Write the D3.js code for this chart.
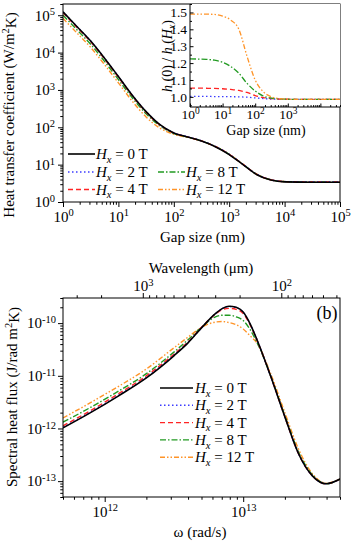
<!DOCTYPE html>
<html>
<head>
<meta charset="utf-8">
<script src="https://cdn.jsdelivr.net/npm/d3@7"></script>
<style>
  body { margin: 0; background: #fff; }
  svg, svg text { font-family: "Liberation Serif", "Times New Roman", serif; }
</style>
</head>
<body>
<div class="chart"></div>
<script>
// legend / series
const fields = ['0', '2', '4', '8', '12']

// panel (a): gap size (log10 nm) and heat transfer coefficient (log10 W/m2K)
const gapLog = [0, 0.25, 0.5, 0.75, 1, 1.25, 1.5, 1.75, 2, 2.25, 2.5, 2.75, 3, 3.25, 3.5, 3.75, 4, 4.5, 5]
const hLog0 = [5.09, 4.70, 4.31, 3.85, 3.36, 2.86, 2.42, 2.07, 1.85, 1.74, 1.63, 1.48, 1.27, 1.00, 0.73, 0.59, 0.54, 0.53, 0.53]
const hLog2 = [5.089, 4.699, 4.309, 3.849, 3.359, 2.86, 2.42, 2.072, 1.854, 1.745, 1.636, 1.486, 1.277, 1.007, 0.737, 0.597, 0.547, 0.537, 0.537]
const hLog4 = [5.068, 4.678, 4.288, 3.829, 3.34, 2.841, 2.404, 2.059, 1.848, 1.742, 1.635, 1.486, 1.277, 1.007, 0.737, 0.597, 0.547, 0.537, 0.537]
const hLog8 = [5.002, 4.612, 4.223, 3.765, 3.279, 2.79, 2.363, 2.039, 1.837, 1.739, 1.634, 1.486, 1.277, 1.007, 0.737, 0.597, 0.547, 0.537, 0.537]
const hLog12 = [4.917, 4.527, 4.137, 3.677, 3.191, 2.699, 2.277, 1.977, 1.813, 1.731, 1.632, 1.485, 1.277, 1.007, 0.737, 0.597, 0.547, 0.537, 0.537]

// inset: h(0)/h(Hx)
const insetGapLog = [0, 0.25, 0.5, 0.75, 1, 1.25, 1.5, 1.75, 2, 2.25, 2.5, 2.75, 3, 3.5, 4, 4.6]
const ratio2 = [1.003, 1.003, 1.003, 1.002, 1.002, 1.001, 1.0, 0.998, 0.994, 0.99, 0.987, 0.986, 0.985, 0.985, 0.985, 0.985]
const ratio4 = [1.052, 1.052, 1.051, 1.05, 1.048, 1.044, 1.038, 1.026, 1.008, 0.996, 0.99, 0.987, 0.986, 0.985, 0.985, 0.985]
const ratio8 = [1.225, 1.224, 1.222, 1.217, 1.205, 1.18, 1.14, 1.08, 1.035, 1.005, 0.993, 0.988, 0.986, 0.985, 0.985, 0.985]
const ratio12 = [1.49, 1.49, 1.49, 1.488, 1.478, 1.455, 1.40, 1.24, 1.10, 1.03, 1.0, 0.99, 0.986, 0.985, 0.985, 0.985]
const insetTicks = [1.0, 1.1, 1.2, 1.3, 1.4, 1.5]
const insetLabels = [1, 10, 100, 1000]

// panel (b): frequency (rad/s) and spectral heat flux (log10 J/rad m2K)
const omega = [5.0e11, 7.9e11, 1.26e12, 2.0e12, 3.16e12, 3.98e12, 5.0e12, 6.3e12, 7.1e12, 7.9e12, 8.9e12, 1.0e13, 1.12e13, 1.26e13, 1.58e13, 2.0e13, 2.5e13, 3.16e13, 3.98e13, 5.0e13]
const fluxLog0 = [-11.99, -11.70, -11.38, -11.04, -10.62, -10.38, -10.09, -9.82, -9.72, -9.68, -9.70, -9.79, -10.01, -10.32, -11.01, -11.78, -12.47, -12.90, -13.05, -12.96]
const fluxLog2 = [-11.98, -11.69, -11.37, -11.03, -10.61, -10.37, -10.09, -9.82, -9.72, -9.685, -9.705, -9.79, -10.01, -10.32, -11.01, -11.78, -12.47, -12.90, -13.05, -12.96]
const fluxLog4 = [-11.95, -11.66, -11.34, -11.00, -10.59, -10.36, -10.08, -9.83, -9.74, -9.72, -9.74, -9.82, -10.03, -10.33, -11.01, -11.78, -12.47, -12.90, -13.05, -12.96]
const fluxLog8 = [-11.88, -11.60, -11.29, -10.96, -10.55, -10.32, -10.08, -9.88, -9.85, -9.85, -9.88, -9.95, -10.12, -10.37, -11.00, -11.76, -12.44, -12.88, -13.05, -12.96]
const fluxLog12 = [-11.80, -11.51, -11.20, -10.87, -10.47, -10.27, -10.08, -9.98, -9.97, -9.99, -10.03, -10.11, -10.24, -10.38, -10.96, -11.70, -12.38, -12.86, -13.04, -12.96]

const colors = ['#000000', '#3c3cff', '#ff2424', '#229a22', '#ff9428']
const dashes = [null, '1.5,2.5', '5,3', '6,2,1.5,2', '5,2,1.5,2,1.5,2']
const widths = [1.6, 1.4, 1.4, 1.4, 1.4]
const serif = '"Liberation Serif", "Times New Roman", serif'

const svg = d3.select('.chart').append('svg')
    .attr('width', 353)
    .attr('height', 541)
    .attr('font-family', serif)

const pa = { left: 63, right: 340, top: 4, bottom: 202 }
const pb = { left: 63, right: 340, top: 298, bottom: 497 }
const ins = { left: 190, right: 340, top: 4, bottom: 107 }

const isMajor = (v) => Math.abs(Math.log10(v) - Math.round(Math.log10(v))) < 1e-6

function supText(t, d) {
    t.append('tspan').text('10')
    t.append('tspan').attr('dy', '-0.5em').attr('font-size', '0.7em')
        .text(Math.round(Math.log10(d)))
}

function cleanAxis(g, fontSize) {
    g.selectAll('.domain').remove()
    g.selectAll('line').attr('stroke', '#000')
    g.selectAll('g').attr('font-family', serif).attr('font-size', fontSize)
    g.selectAll('text').attr('font-family', serif).attr('fill', '#000')
}

// draws a log axis with minor ticks and 10^n labels
function logAxis(g, scale, axisFn, len, pad, fontSize, labelled) {
    const all = scale.ticks()
    const majors = all.filter(isMajor)
    const minors = all.filter(v => !isMajor(v))
    g.append('g')
        .call(axisFn(scale).tickValues(minors).tickSize(len * 0.55).tickSizeOuter(0).tickFormat(''))
    const mg = g.append('g')
        .call(axisFn(scale).tickValues(majors).tickSize(len).tickSizeOuter(0).tickPadding(pad).tickFormat(''))
    mg.selectAll('.tick text')
        .filter(d => !labelled || labelled.includes(d))
        .each(function (d) { supText(d3.select(this), d) })
    cleanAxis(g, fontSize)
}

function legendLabel(t, f) {
    t.append('tspan').attr('font-style', 'italic').text('H')
    t.append('tspan').attr('font-style', 'italic').attr('font-size', '0.7em').attr('dy', '0.35em').text('x')
    t.append('tspan').attr('dy', '-0.25em').text(` = ${f} T`)
}

function clip(id, p) {
    svg.append('clipPath').attr('id', id)
        .append('rect')
        .attr('x', p.left).attr('y', p.top)
        .attr('width', p.right - p.left).attr('height', p.bottom - p.top)
}

// ---------- panel (a) ----------
const xA = d3.scaleLog().domain([1, 1e5]).range([pa.left, pa.right])
const yA = d3.scaleLog().domain([1, 2e5]).range([pa.bottom, pa.top])
clip('clipA', pa)

const hSeries = [hLog0, hLog2, hLog4, hLog8, hLog12]
const lineA = d3.line()
    .x(d => xA(d[0]))
    .y(d => yA(d[1]))
    .curve(d3.curveMonotoneX)

svg.append('g').attr('clip-path', 'url(#clipA)')
    .selectAll('path')
    .data(hSeries.map(s => s.map((v, i) => [Math.pow(10, gapLog[i]), Math.pow(10, v)])).reverse())
    .join('path')
    .attr('d', lineA)
    .attr('fill', 'none')
    .attr('stroke', (d, i) => colors[4 - i])
    .attr('stroke-width', (d, i) => widths[4 - i])
    .attr('stroke-dasharray', (d, i) => dashes[4 - i])

logAxis(svg.append('g').attr('transform', `translate(0,${pa.bottom})`), xA, d3.axisBottom, 5, 4, 15)
logAxis(svg.append('g').attr('transform', `translate(${pa.left},0)`), yA, d3.axisLeft, 5, 3, 15)

svg.append('rect')
    .attr('x', pa.left).attr('y', pa.top)
    .attr('width', pa.right - pa.left).attr('height', pa.bottom - pa.top)
    .attr('fill', 'none').attr('stroke', '#000')

svg.append('text')
    .attr('x', (pa.left + pa.right) / 2 + 1).attr('y', 242)
    .attr('text-anchor', 'middle').attr('font-size', 15)
    .text('Gap size (nm)')

const titleA = svg.append('text')
    .attr('transform', 'translate(14,115) rotate(-90)')
    .attr('text-anchor', 'middle').attr('font-size', 15)
titleA.append('tspan').text('Heat transfer coefficient (W/m')
titleA.append('tspan').attr('dy', '-0.45em').attr('font-size', '0.7em').text('2')
titleA.append('tspan').attr('dy', '0.45em').text('K)')

// legend (a)
const legA = [
    { x: 68, y: 154 }, { x: 68, y: 172 }, { x: 68, y: 189.5 },
    { x: 158, y: 172 }, { x: 158, y: 189.5 }
]
legA.forEach((p, i) => {
    svg.append('line')
        .attr('x1', p.x).attr('x2', p.x + 27).attr('y1', p.y).attr('y2', p.y)
        .attr('stroke', colors[i]).attr('stroke-width', widths[i])
        .attr('stroke-dasharray', dashes[i])
    svg.append('text')
        .attr('x', p.x + 28).attr('y', p.y + 5)
        .attr('font-size', 15)
        .call(legendLabel, fields[i])
})

svg.append('text')
    .attr('x', 327).attr('y', 24)
    .attr('text-anchor', 'middle').attr('font-size', 18)
    .text('(a)')

// ---------- inset ----------
const xI = d3.scaleLog().domain([1, 4e4]).range([ins.left, ins.right])
const yI = d3.scaleLinear().domain([0.94, 1.55]).range([ins.bottom, ins.top])
clip('clipI', ins)

svg.append('rect')
    .attr('x', ins.left).attr('y', ins.top)
    .attr('width', ins.right - ins.left).attr('height', ins.bottom - ins.top)
    .attr('fill', '#fff')

const ratioSeries = [ratio2, ratio4, ratio8, ratio12]
const lineI = d3.line()
    .x(d => xI(d[0]))
    .y(d => yI(d[1]))
    .curve(d3.curveMonotoneX)

svg.append('g').attr('clip-path', 'url(#clipI)')
    .selectAll('path')
    .data(ratioSeries.map(s => s.map((v, i) => [Math.pow(10, insetGapLog[i]), v])))
    .join('path')
    .attr('d', lineI)
    .attr('fill', 'none')
    .attr('stroke', (d, i) => colors[i + 1])
    .attr('stroke-width', 1.3)
    .attr('stroke-dasharray', (d, i) => dashes[i + 1])

logAxis(svg.append('g').attr('transform', `translate(0,${ins.bottom})`), xI, d3.axisBottom, -3.5, 2, 13.5, insetLabels)

const yIg = svg.append('g').attr('transform', `translate(${ins.left},0)`)
yIg.append('g')
    .call(d3.axisLeft(yI).tickValues(insetTicks.map(v => v + 0.05).concat([0.95])).tickSize(-2).tickSizeOuter(0).tickFormat(''))
yIg.append('g')
    .call(d3.axisLeft(yI).tickValues(insetTicks).tickSize(-3.5).tickSizeOuter(0).tickPadding(3).tickFormat(d3.format('.1f')))
cleanAxis(yIg, 13.5)

svg.append('path')
    .attr('d', `M${ins.left},${ins.top}V${ins.bottom}H${ins.right}`)
    .attr('fill', 'none').attr('stroke', '#000')

svg.append('text')
    .attr('x', 266).attr('y', 135)
    .attr('text-anchor', 'middle').attr('font-size', 14)
    .text('Gap size (nm)')

const titleI = svg.append('text')
    .attr('transform', 'translate(172,56) rotate(-90)')
    .attr('text-anchor', 'middle').attr('font-size', 14)
titleI.append('tspan').attr('font-style', 'italic').text('h')
titleI.append('tspan').text(' (0) / ')
titleI.append('tspan').attr('font-style', 'italic').text('h')
titleI.append('tspan').text(' (')
titleI.append('tspan').attr('font-style', 'italic').text('H')
titleI.append('tspan').attr('font-style', 'italic').attr('font-size', '0.7em').attr('dy', '0.35em').text('x')
titleI.append('tspan').attr('dy', '-0.25em').text(')')

// ---------- panel (b) ----------
const xB = d3.scaleLog().domain([5e11, 5e13]).range([pb.left, pb.right])
const yB = d3.scaleLog().domain([5e-14, 3e-10]).range([pb.bottom, pb.top])
const toMicron = (w) => 2 * Math.PI * 2.998e8 / w * 1e6
const xW = d3.scaleLog().domain([toMicron(5e11), toMicron(5e13)]).range([pb.left, pb.right])
clip('clipB', pb)

const fluxSeries = [fluxLog0, fluxLog2, fluxLog4, fluxLog8, fluxLog12]
const lineB = d3.line()
    .x(d => xB(d[0]))
    .y(d => yB(d[1]))
    .curve(d3.curveMonotoneX)

svg.append('g').attr('clip-path', 'url(#clipB)')
    .selectAll('path')
    .data(fluxSeries.map(s => s.map((v, i) => [omega[i], Math.pow(10, v)])).reverse())
    .join('path')
    .attr('d', lineB)
    .attr('fill', 'none')
    .attr('stroke', (d, i) => colors[4 - i])
    .attr('stroke-width', (d, i) => widths[4 - i])
    .attr('stroke-dasharray', (d, i) => dashes[4 - i])

logAxis(svg.append('g').attr('transform', `translate(0,${pb.bottom})`), xB, d3.axisBottom, 5, 4, 15)
logAxis(svg.append('g').attr('transform', `translate(0,${pb.top})`), xW, d3.axisTop, 5, 2, 15)
logAxis(svg.append('g').attr('transform', `translate(${pb.left},0)`), yB, d3.axisLeft, 5, 2, 15)

svg.append('rect')
    .attr('x', pb.left).attr('y', pb.top)
    .attr('width', pb.right - pb.left).attr('height', pb.bottom - pb.top)
    .attr('fill', 'none').attr('stroke', '#000')

svg.append('text')
    .attr('x', 201).attr('y', 273)
    .attr('text-anchor', 'middle').attr('font-size', 15)
    .text('Wavelength (\u03bcm)')

svg.append('text')
    .attr('x', 200).attr('y', 537)
    .attr('text-anchor', 'middle').attr('font-size', 15)
    .text('\u03c9 (rad/s)')

const titleB = svg.append('text')
    .attr('transform', 'translate(17,397) rotate(-90)')
    .attr('text-anchor', 'middle').attr('font-size', 15)
titleB.append('tspan').text('Spectral heat flux (J/rad m')
titleB.append('tspan').attr('dy', '-0.45em').attr('font-size', '0.7em').text('2')
titleB.append('tspan').attr('dy', '0.45em').text('K)')

// legend (b)
fields.forEach((f, i) => {
    const y = 388 + i * 17.3
    svg.append('line')
        .attr('x1', 160).attr('x2', 193).attr('y1', y).attr('y2', y)
        .attr('stroke', colors[i]).attr('stroke-width', widths[i])
        .attr('stroke-dasharray', dashes[i])
    svg.append('text')
        .attr('x', 195).attr('y', y + 5)
        .attr('font-size', 15)
        .call(legendLabel, f)
})

svg.append('text')
    .attr('x', 327).attr('y', 319)
    .attr('text-anchor', 'middle').attr('font-size', 18)
    .text('(b)')
</script>
</body>
</html>
